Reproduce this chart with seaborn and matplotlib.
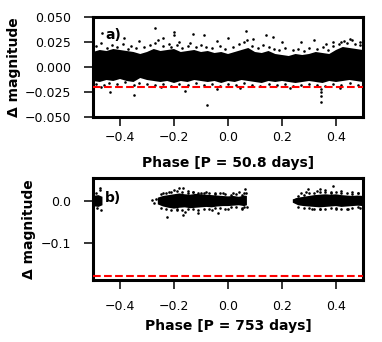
import numpy as np
import seaborn as sns
import matplotlib
matplotlib.use("Agg")
import matplotlib.pyplot as plt

# ---- panel a) P = 50.8 days : dense core as a band + scattered points ----
band_phase_a = [-0.500, -0.475, -0.450, -0.425, -0.400, -0.375, -0.350, -0.325, -0.300, -0.275,
                -0.250, -0.225, -0.200, -0.175, -0.150, -0.125, -0.100, -0.075, -0.050, -0.025,
                0.000, 0.025, 0.050, 0.075, 0.100, 0.125, 0.150, 0.175, 0.200, 0.225,
                0.250, 0.275, 0.300, 0.325, 0.350, 0.375, 0.400, 0.425, 0.450, 0.475, 0.500]
band_hi_a = [0.015, 0.017, 0.016, 0.018, 0.017, 0.016, 0.015, 0.013, 0.015, 0.018,
             0.016, 0.017, 0.018, 0.015, 0.016, 0.017, 0.015, 0.016, 0.014, 0.015,
             0.013, 0.015, 0.017, 0.019, 0.015, 0.014, 0.016, 0.013, 0.012, 0.011,
             0.013, 0.012, 0.013, 0.015, 0.014, 0.013, 0.017, 0.020, 0.019, 0.018, 0.017]
band_lo_a = [-0.014, -0.015, -0.013, -0.014, -0.012, -0.014, -0.015, -0.011, -0.013, -0.014,
             -0.015, -0.014, -0.016, -0.014, -0.015, -0.013, -0.014, -0.015, -0.014, -0.016,
             -0.014, -0.015, -0.013, -0.014, -0.015, -0.016, -0.014, -0.015, -0.014, -0.015,
             -0.016, -0.015, -0.014, -0.015, -0.016, -0.014, -0.015, -0.014, -0.013, -0.014, -0.015]

phase_a = [-0.49, -0.47, -0.45, -0.43, -0.41, -0.39, -0.37, -0.36, -0.34, -0.31, -0.29, -0.27,
           -0.26, -0.24, -0.22, -0.21, -0.19, -0.17, -0.15, -0.14, -0.12, -0.10, -0.08, -0.06,
           -0.03, -0.01, 0.02, 0.04, 0.06, 0.07, 0.09, 0.11, 0.13, 0.15, 0.17, 0.19, 0.21, 0.24,
           0.26, 0.28, 0.30, 0.33, 0.35, 0.37, 0.39, 0.41, 0.43, 0.44, 0.46, 0.47, 0.49,
           -0.49, -0.46, -0.44, -0.41, -0.38, -0.35, -0.33, -0.30, -0.27, -0.24, -0.21, -0.18,
           -0.15, -0.12, -0.09, -0.06, -0.03, 0.00, 0.03, 0.06, 0.09, 0.12, 0.15, 0.18, 0.21,
           0.24, 0.27, 0.30, 0.33, 0.345, 0.345, 0.36, 0.39, 0.42, 0.45, 0.48,
           -0.27, -0.20, -0.20, -0.13, -0.09, 0.067, 0.14, -0.077, 0.343, 0.343, -0.35, -0.16,
           -0.437, 0.42, 0.45, 0.49, 0.32, 0.20, 0.00, -0.468, -0.385, -0.33, -0.24, -0.18,
           -0.04, 0.093, 0.167, 0.27, 0.363, 0.39, -0.04, 0.044, 0.23, 0.415, -0.25, -0.47]
dmag_a = [0.021, 0.024, 0.019, 0.022, 0.020, 0.023, 0.018, 0.021, 0.019, 0.020, 0.022, 0.024,
          0.027, 0.021, 0.023, 0.020, 0.022, 0.019, 0.021, 0.024, 0.020, 0.022, 0.020, 0.019,
          0.021, 0.018, 0.020, 0.023, 0.025, 0.027, 0.021, 0.019, 0.022, 0.020, 0.018, 0.017,
          0.019, 0.017, 0.018, 0.016, 0.019, 0.018, 0.020, 0.017, 0.021, 0.023, 0.026, 0.024,
          0.027, 0.023, 0.022,
          -0.017, -0.018, -0.016, -0.017, -0.015, -0.018, -0.016, -0.017, -0.018, -0.017,
          -0.019, -0.017, -0.018, -0.016, -0.018, -0.017, -0.019, -0.017, -0.018, -0.016,
          -0.018, -0.019, -0.017, -0.018, -0.017, -0.019, -0.018, -0.017, -0.018, -0.022,
          -0.025, -0.019, -0.017, -0.018, -0.016, -0.018,
          0.039, 0.035, 0.032, 0.033, 0.032, 0.036, 0.032, -0.038, -0.035, -0.029, -0.028,
          -0.024, -0.025, 0.025, 0.028, 0.025, 0.027, 0.025, 0.029, 0.034, 0.029, 0.026,
          0.029, 0.025, 0.026, 0.028, 0.030, 0.025, 0.023, 0.025, -0.022, -0.021, -0.021,
          -0.021, -0.020, -0.020]
limit_a = -0.020

# ---- panel b) P = 753 days ----
band_phase_b = [-0.500, -0.480, -0.465, -0.40,
                -0.26, -0.24, -0.22, -0.20, -0.18, -0.16, -0.14, -0.12, -0.10, -0.08,
                -0.06, -0.04, -0.02, 0.00, 0.02, 0.04, 0.06, 0.07, 0.15,
                0.24, 0.26, 0.28, 0.30, 0.32, 0.34, 0.36, 0.38, 0.40, 0.42, 0.44, 0.46, 0.48, 0.50]
band_hi_b = [0.012, 0.014, 0.010, np.nan,
             0.008, 0.012, 0.014, 0.016, 0.018, 0.016, 0.015, 0.017, 0.016, 0.015,
             0.014, 0.013, 0.012, 0.011, 0.012, 0.010, 0.013, 0.012, np.nan,
             0.004, 0.008, 0.010, 0.012, 0.014, 0.015, 0.016, 0.015, 0.016, 0.014, 0.013,
             0.012, 0.013, 0.012]
band_lo_b = [-0.012, -0.014, -0.010, np.nan,
             -0.008, -0.013, -0.016, -0.018, -0.016, -0.015, -0.017, -0.016, -0.015, -0.014,
             -0.015, -0.013, -0.012, -0.012, -0.011, -0.010, -0.012, -0.010, np.nan,
             -0.004, -0.010, -0.012, -0.013, -0.014, -0.015, -0.014, -0.013, -0.012, -0.014,
             -0.013, -0.012, -0.011, -0.012]

phase_b = [-0.49, -0.475, -0.475, -0.47, -0.485, -0.28, -0.275, -0.265, -0.24, -0.225, -0.22,
           -0.20, -0.19, -0.18, -0.168, -0.168, -0.16, -0.15, -0.13, -0.11, -0.10, -0.08, -0.06,
           -0.05, -0.036, -0.02, 0.00, 0.02, 0.04, 0.05, 0.063, 0.065, 0.07, 0.25, 0.27, 0.29,
           0.297, 0.31, 0.33, 0.34, 0.34, 0.36, 0.38, 0.39, 0.40, 0.42, 0.445, 0.46, 0.48, 0.49,
           -0.25, -0.23, -0.21, -0.19, -0.17, -0.15, -0.13, -0.11, -0.09, -0.07, -0.05, -0.03,
           -0.01, 0.01, 0.03, 0.05, 0.06,
           -0.25, -0.23, -0.21, -0.19, -0.17, -0.15, -0.13, -0.11, -0.09, -0.07, -0.05, -0.03,
           -0.01, 0.01, 0.03, 0.05, 0.06,
           0.26, 0.28, 0.30, 0.32, 0.34, 0.36, 0.38, 0.40, 0.42, 0.44, 0.46, 0.48,
           0.26, 0.28, 0.30, 0.32, 0.34, 0.36, 0.38, 0.40, 0.42, 0.44, 0.46, 0.48]
dmag_b = [0.020, 0.030, 0.025, -0.022, -0.016, 0.002, -0.004, 0.005, 0.020, -0.038, 0.022,
          0.026, -0.022, 0.030, 0.032, -0.032, -0.025, 0.024, 0.022, -0.028, 0.020, 0.022, -0.022,
          0.020, -0.028, 0.019, -0.020, 0.018, 0.022, -0.018, 0.028, 0.020, -0.015, 0.005, 0.018,
          0.022, 0.028, -0.020, 0.024, 0.029, -0.020, 0.026, 0.022, 0.036, -0.018, 0.024, -0.020,
          0.022, 0.020, -0.016,
          0.016, 0.019, 0.021, 0.023, 0.022, 0.020, 0.021, 0.019, 0.020, 0.018, 0.017, 0.018,
          0.016, 0.015, 0.016, 0.014, 0.018,
          -0.016, -0.019, -0.022, -0.020, -0.021, -0.019, -0.020, -0.022, -0.018, -0.019, -0.017,
          -0.016, -0.018, -0.015, -0.014, -0.016, -0.014,
          0.012, 0.015, 0.018, 0.020, 0.021, 0.022, 0.020, 0.021, 0.019, 0.018, 0.017, 0.018,
          -0.014, -0.016, -0.017, -0.019, -0.018, -0.020, -0.017, -0.016, -0.018, -0.019,
          -0.016, -0.015]
limit_b = -0.178

sns.set_style("ticks")
plt.rcParams["font.family"] = ["DejaVu Sans"]
plt.rcParams.update({"text.color": "black", "axes.labelcolor": "black",
                     "xtick.color": "black", "ytick.color": "black"})

fig = plt.figure(figsize=(3.82, 3.42), dpi=100)
ax1 = fig.add_axes([0.2435, 0.6579, 0.7068, 0.2924])
ax2 = fig.add_axes([0.2435, 0.1813, 0.7068, 0.2982])

panels = [
    (ax1, band_phase_a, band_hi_a, band_lo_a, phase_a, dmag_a, limit_a,
     "Phase [P = 50.8 days]", "a)", (-0.05, 0.05), [-0.05, -0.025, 0.0, 0.025, 0.05],
     (0.045, 0.82), -0.267, 3.5, 9),
    (ax2, band_phase_b, band_hi_b, band_lo_b, phase_b, dmag_b, limit_b,
     "Phase [P = 753 days]", "b)", (-0.187, 0.0545), [-0.1, 0.0],
     (0.045, 0.80), -0.211, 8, 4),
]

for ax, bx, bhi, blo, px, py, lim, xlab, tag, ylim, yt, tagpos, ylx, xpad, xlpad in panels:
    ax.fill_between(bx, blo, bhi, facecolor="black", edgecolor="none", zorder=2)
    ax.scatter(px, py, color="black", s=3.5, linewidths=0, zorder=3)
    ax.axhline(lim, color="red", ls="--", lw=1.5, zorder=4)
    ax.set_xlim(-0.5, 0.5)
    ax.set_ylim(*ylim)
    ax.set_yticks(yt)
    ax.set_xticks([-0.4, -0.2, 0.0, 0.2, 0.4])
    ax.set_xlabel(xlab, fontsize=10, fontweight="bold", labelpad=xlpad)
    ax.set_ylabel("Δ magnitude", fontsize=10, fontweight="bold")
    ax.yaxis.set_label_coords(ylx, 0.5)
    ax.tick_params(labelsize=9, direction="out", length=6.5, width=1.1)
    ax.tick_params(axis="y", pad=9)
    ax.tick_params(axis="x", pad=xpad)
    for sp in ax.spines.values():
        sp.set_linewidth(2.2)
        sp.set_color("black")
    ax.text(tagpos[0], tagpos[1], tag, transform=ax.transAxes, fontsize=10,
            fontweight="bold", va="center", ha="left", zorder=5)

fig.savefig("out.png", dpi=100)
